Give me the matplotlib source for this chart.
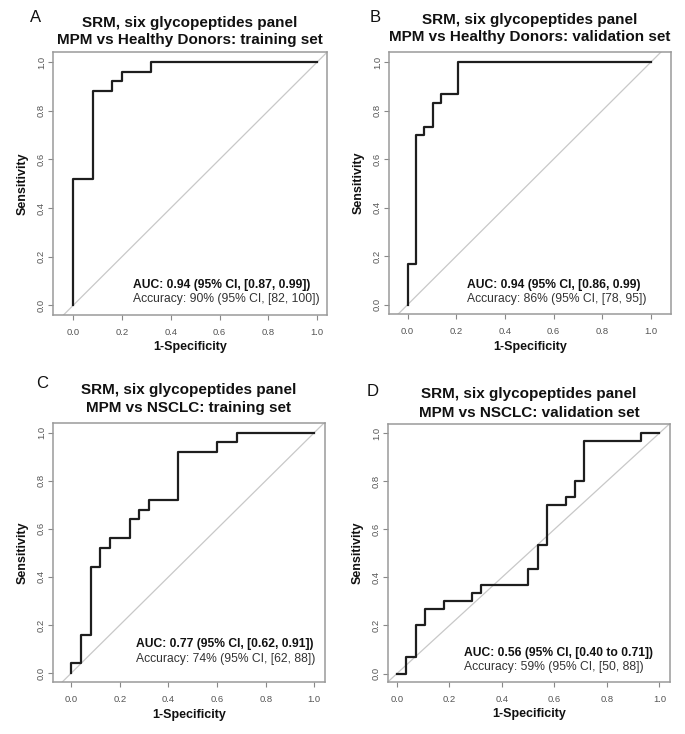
import numpy as np
import matplotlib
matplotlib.use("Agg")
import matplotlib.pyplot as plt

plt.rcParams["font.family"] = ["Liberation Sans", "DejaVu Sans"]

W, H = 685, 734

letters = ["A", "B", "C", "D"]
titles = [
    "SRM, six glycopeptides panel\nMPM vs Healthy Donors: training set",
    "SRM, six glycopeptides panel\nMPM vs Healthy Donors: validation set",
    "SRM, six glycopeptides panel\nMPM vs NSCLC: training set",
    "SRM, six glycopeptides panel\nMPM vs NSCLC: validation set",
]
auc_text = [
    "AUC: 0.94 (95% CI, [0.87, 0.99])",
    "AUC: 0.94 (95% CI, [0.86, 0.99)",
    "AUC: 0.77 (95% CI, [0.62, 0.91])",
    "AUC: 0.56 (95% CI, [0.40 to 0.71])",
]
acc_text = [
    "Accuracy: 90% (95% CI, [82, 100])",
    "Accuracy: 86% (95% CI, [78, 95])",
    "Accuracy: 74% (95% CI, [62, 88])",
    "Accuracy: 59% (95% CI, [50, 88])",
]

# ROC steps: x where the curve jumps up, and the sensitivity after the jump
step_x = [
    [0, 0.08, 0.16, 0.20, 0.32],
    [0, 0.034, 0.069, 0.103, 0.138, 0.207],
    [0, 0.04, 0.08, 0.12, 0.16, 0.24, 0.28, 0.32, 0.44, 0.60, 0.68],
    [0.036, 0.071, 0.107, 0.179, 0.286, 0.321, 0.50, 0.536, 0.571, 0.643,
     0.679, 0.714, 0.929],
]
step_y = [
    [0.52, 0.88, 0.92, 0.96, 1.0],
    [0.167, 0.70, 0.733, 0.833, 0.867, 1.0],
    [0.04, 0.16, 0.44, 0.52, 0.56, 0.64, 0.68, 0.72, 0.92, 0.96, 1.0],
    [0.067, 0.20, 0.267, 0.30, 0.333, 0.367, 0.433, 0.533, 0.70, 0.733,
     0.80, 0.967, 1.0],
]

# layout (pixels from top-left): axes box, limits, text spots
boxes = [(53, 52, 327, 315), (389, 52, 671, 314),
         (53, 423, 325, 682), (388, 424, 670, 682)]
xlims = [(-0.083, 1.040), (-0.076, 1.082), (-0.075, 1.044), (-0.034, 1.040)]
ylims = [(-0.040, 1.041), (-0.038, 1.041), (-0.037, 1.040), (-0.035, 1.0375)]
letter_pos = [(36, 18), (375, 18), (42, 384), (373, 391)]
title_y = [(23, 40), (20, 37), (390, 408), (394, 413)]
ann_xy = [(0.243, 0.083, 0.026), (0.243, 0.082, 0.025),
          (0.267, 0.122, 0.060), (0.255, 0.0875, 0.028)]
ylab_x = [23, 359, 23, 358]
xlab_y = [347, 347, 715, 714]


def fx(px):
    return px / W


def fy(py):
    return 1 - py / H


def roc_path(sx, sy):
    xs, ys = [0.0], [0.0]
    prev = 0.0
    for x, y in zip(sx, sy):
        xs += [x, x]
        ys += [prev, y]
        prev = y
    xs.append(1.0)
    ys.append(prev)
    return xs, ys


fig = plt.figure(figsize=(W / 100, H / 100), dpi=100)

for i in range(4):
    l, t, r, b = boxes[i]
    ax = fig.add_axes([fx(l), fy(b), fx(r) - fx(l), (b - t) / H])
    ax.set_xlim(*xlims[i])
    ax.set_ylim(*ylims[i])
    ax.plot([-0.2, 1.2], [-0.2, 1.2], color="#c8c8c8", lw=0.9, zorder=1)
    xs, ys = roc_path(step_x[i], step_y[i])
    ax.plot(xs, ys, color="#1e1e1e", lw=1.6, zorder=2)

    ticks = [0.0, 0.2, 0.4, 0.6, 0.8, 1.0]
    ax.set_xticks(ticks)
    ax.set_yticks(ticks)
    ax.set_xticklabels([f"{v:.1f}" for v in ticks])
    ax.set_yticklabels([f"{v:.1f}" for v in ticks], rotation=90, va="center")
    ax.tick_params(length=3.5, width=0.8, color="#888888", labelsize=6.8,
                   labelcolor="#555555")
    ax.tick_params(axis="x", pad=5.5)
    ax.tick_params(axis="y", pad=1.5)
    for s in ax.spines.values():
        s.set_color("#9a9a9a")
        s.set_linewidth(1.1)

    ax.text(ann_xy[i][0], ann_xy[i][1], auc_text[i], fontsize=8.7,
            fontweight="bold", color="#111111", va="center", ha="left")
    ax.text(ann_xy[i][0], ann_xy[i][2], acc_text[i], fontsize=8.7,
            color="#333333", va="center", ha="left")

    cx = (l + r) / 2
    line1, line2 = titles[i].split("\n")
    fig.text(fx(cx), fy(title_y[i][0]), line1, ha="center", va="center",
             fontsize=11, fontweight="bold", color="#111111")
    fig.text(fx(cx), fy(title_y[i][1]), line2, ha="center", va="center",
             fontsize=11, fontweight="bold", color="#111111")
    fig.text(fx(letter_pos[i][0]), fy(letter_pos[i][1]), letters[i],
             ha="center", va="center", fontsize=12, color="#111111")
    fig.text(fx(cx), fy(xlab_y[i]), "1-Specificity", ha="center",
             va="center", fontsize=9, fontweight="bold", color="#111111")
    fig.text(fx(ylab_x[i]), fy((t + b) / 2), "Sensitivity", ha="center",
             va="center", rotation=90, fontsize=9, fontweight="bold",
             color="#111111")

fig.savefig("out.png", dpi=100, facecolor="white")
